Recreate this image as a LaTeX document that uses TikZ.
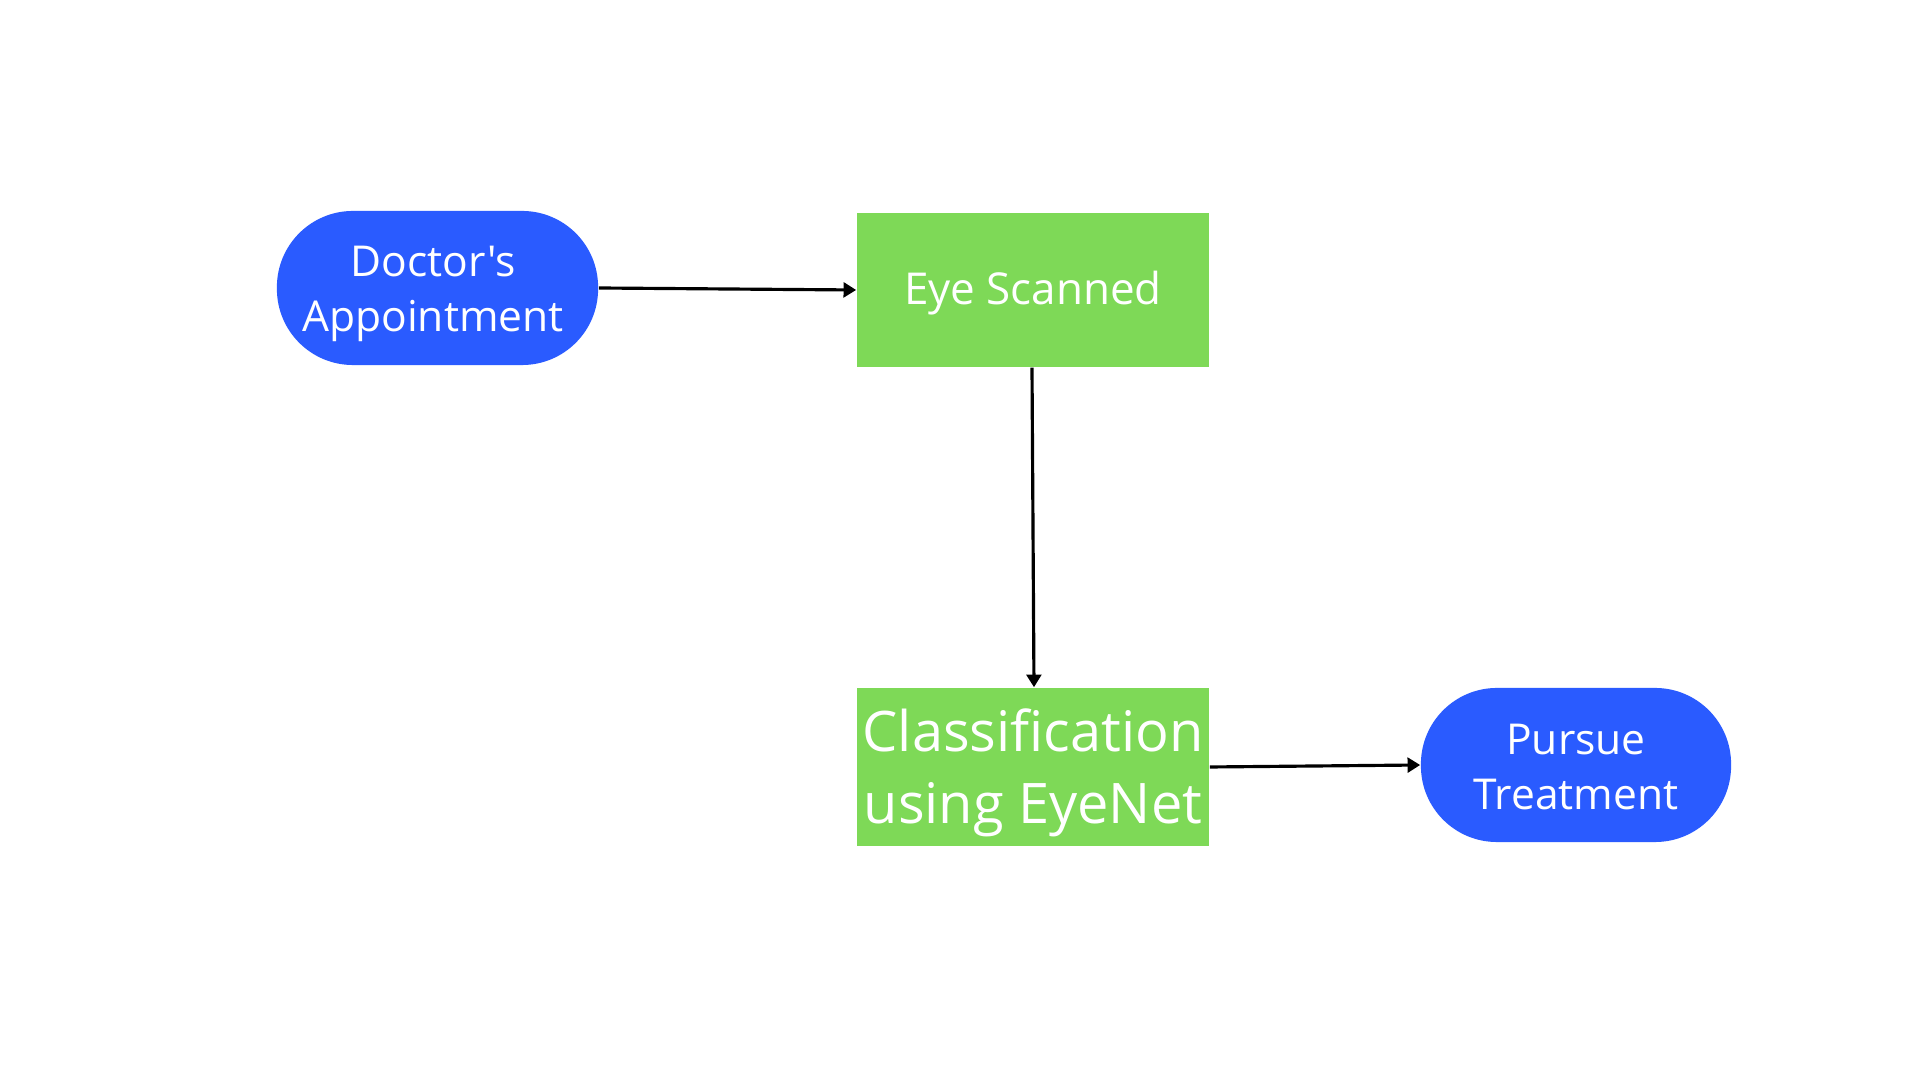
\documentclass[tikz,border=0pt]{standalone}
\usepackage{fontspec}
\newfontfamily\osans{Open Sans}
\usetikzlibrary{arrows.meta}
\definecolor{bblue}{HTML}{2A5BFF}
\definecolor{bgreen}{HTML}{7ED957}
\begin{document}
\begin{tikzpicture}[x=0.01cm,y=-0.01cm,
  term/.style={fill=bblue,draw=none,rounded corners=0.76cm,text=white,align=center,inner sep=0pt},
  proc/.style={fill=bgreen,draw=none,text=white,align=center,inner sep=0pt},
  conn/.style={line width=0.9pt,-{Triangle[length=3.6pt,width=4.2pt]}}]
\path[use as bounding box] (0,0) rectangle (1920,1080);
\node[term,minimum width=3.21cm,minimum height=1.54cm] (doc) at (437.5,288) {};
\node[text=white,align=center,font=\osans\fontsize{12.1}{15.6}\selectfont] (doct) at (433,294) {Doctor's\\Appointment};
\node[proc,minimum width=3.52cm,minimum height=1.54cm] (eye) at (1033,290) {};
\node[text=white,font=\osans\fontsize{12.5}{15.6}\selectfont] (eyet) at (1033,293) {Eye Scanned};
\node[proc,minimum width=3.52cm,minimum height=1.58cm] (cls) at (1033,767) {};
\node[text=white,align=center,font=\osans\fontsize{15.9}{20.5}\selectfont] (clst) at (1033,773) {Classification\\using EyeNet};
\node[term,minimum width=3.10cm,minimum height=1.54cm] (pur) at (1576,765) {};
\node[text=white,align=center,font=\osans\fontsize{12.1}{15.6}\selectfont] (purt) at (1576,767) {Pursue\\Treatment};
\draw[conn] (doc.east) -- (eye.west);
\draw[conn] ([xshift=-0.01cm]eye.south) -- ([xshift=0.01cm]cls.north);
\draw[conn] (cls.east) -- (pur.west);
\end{tikzpicture}
\end{document}
